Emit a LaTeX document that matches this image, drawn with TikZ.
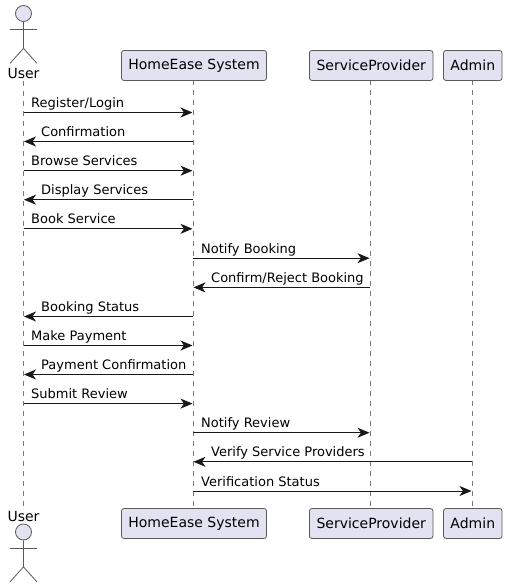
\documentclass[tikz,border=0pt]{standalone}
\usepackage{fontspec}
\setmainfont{DejaVu Sans}
\usetikzlibrary{arrows.meta,calc}
\definecolor{puFill}{HTML}{E2E2F0}
\definecolor{puLine}{HTML}{181818}
\definecolor{puEdge}{HTML}{5A5A5A}
\definecolor{puLife}{HTML}{7A7A7A}
\tikzset{
  x=1pt,y=-1pt,
  party/.style={draw=puEdge,line width=0.8pt,fill=puFill,rounded corners=2.5pt,minimum height=30pt,inner sep=0pt,font=\fontsize{14}{16}\selectfont,text=black},
  actorname/.style={inner sep=0pt,font=\fontsize{14}{16}\selectfont,text=black},
  lifeline/.style={draw=puLife,line width=0.8pt,dash pattern=on 5pt off 5pt},
  actorline/.style={draw=puEdge,line width=0.8pt},
  actorhead/.style={circle,draw=puEdge,line width=0.8pt,fill=puFill,minimum size=16pt,inner sep=0pt},
  msg/.style={draw=puLine,line width=0.9pt,-{Stealth[length=12pt,width=10pt,inset=3.5pt]}},
  msgtext/.style={inner sep=0pt,anchor=base west,font=\fontsize{13}{15}\selectfont,text=black},
}
\newcommand{\actorfig}[3]{% name, x, head centre y
  \node[actorhead] (#1) at (#2,#3) {};
  \draw[actorline] (#1.south) -- ++(0,26.5) coordinate (#1hip) -- ++(-13.5,15);
  \draw[actorline] (#1hip) -- ++(13.5,15);
  \draw[actorline] ($(#1.south)+(-13.5,7.5)$) -- ++(27,0);
}
\newcommand{\msgrow}[6]{% id, from, to, y, label x, text
  \coordinate (f#1) at (#2,#4);
  \coordinate (t#1) at (#3,#4);
  \draw[msg] (f#1) -- (t#1);
  \node[msgtext] (l#1) at (#5,#4-5) {#6};
}
\begin{document}
\begin{tikzpicture}
\useasboundingbox (0,0) rectangle (507,588);
\fill[white] (0,0) rectangle (507,588);
% lifelines
\coordinate (usLT) at (23.5,81);
\coordinate (usLB) at (23.5,506);
\coordinate (syLT) at (193,80.5);
\coordinate (syLB) at (193,508.5);
\coordinate (spLT) at (370,80.5);
\coordinate (spLB) at (370,508.5);
\coordinate (adLT) at (472,80.5);
\coordinate (adLB) at (472,508.5);
\draw[lifeline] (usLT) -- (usLB);
\draw[lifeline] (syLT) -- (syLB);
\draw[lifeline] (spLT) -- (spLB);
\draw[lifeline] (adLT) -- (adLB);
% top participants
\node[party,minimum width=145pt] (sysT) at (194,65.5) {HomeEase System};
\node[party,minimum width=123.5pt] (spT) at (371.2,65.5) {ServiceProvider};
\node[party,minimum width=58.5pt] (adT) at (472.8,65.5) {Admin};
\node[actorname] (usT) at (23.5,73) {User};
% bottom participants
\node[party,minimum width=145pt] (sysB) at (194,523.5) {HomeEase System};
\node[party,minimum width=123.5pt] (spB) at (371.2,523.5) {ServiceProvider};
\node[party,minimum width=58.5pt] (adB) at (472.8,523.5) {Admin};
\node[actorname] (usB) at (23.5,516) {User};
% actors
\actorfig{usHT}{23.5}{13.5}
\actorfig{usHB}{23.5}{532}
% messages
\msgrow{a}{23.5}{192.5}{112.5}{31}{Register/Login}
\msgrow{b}{193}{24}{141.5}{41}{Confirmation}
\msgrow{c}{23.5}{192.5}{170.7}{31}{Browse Services}
\msgrow{d}{193}{24}{199.7}{41}{Display Services}
\msgrow{e}{23.5}{192.5}{228.8}{31}{Book Service}
\msgrow{g}{193}{369.5}{258.2}{201}{Notify Booking}
\msgrow{h}{370}{193.5}{287.4}{211}{Confirm/Reject Booking}
\msgrow{i}{193}{24}{316.5}{41}{Booking Status}
\msgrow{j}{23.5}{192.5}{345.5}{31}{Make Payment}
\msgrow{k}{193}{24}{374.5}{41}{Payment Confirmation}
\msgrow{m}{23.5}{192.5}{403.6}{31}{Submit Review}
\msgrow{n}{193}{369.5}{432.7}{201}{Notify Review}
\msgrow{o}{472}{193.5}{461.8}{211}{Verify Service Providers}
\msgrow{p}{193}{471.5}{491}{201}{Verification Status}
\end{tikzpicture}
\end{document}
